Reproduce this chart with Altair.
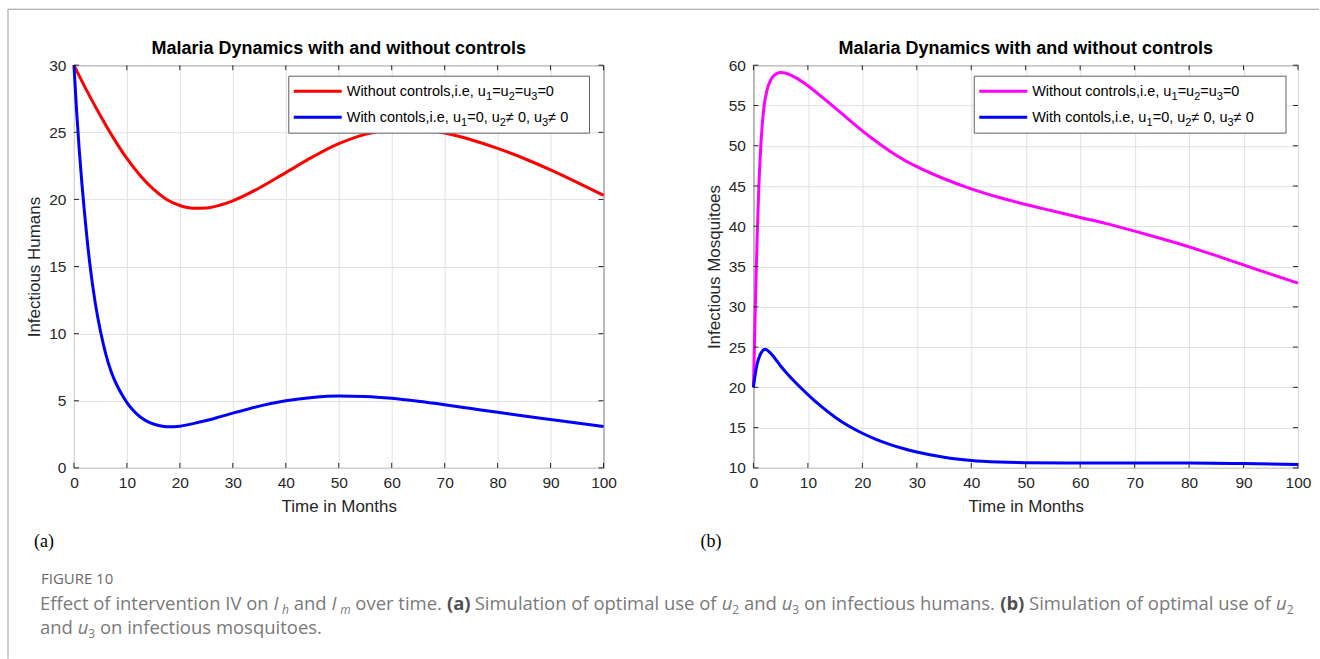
import altair as alt
import pandas as pd

# ---------------- series (time in months, population) ----------------
# Infectious humans without controls
t_h_none = [0, 2.5, 5, 7.5, 10, 12.5, 15, 17.5, 20, 22.5, 25, 27.5, 30, 35, 40, 45,
            50, 55, 60, 65, 70, 75, 80, 85, 90, 95, 100]
ih_none = [30, 28.05, 26.23, 24.55, 23.05, 21.78, 20.76, 20.0, 19.55, 19.35, 19.37,
           19.57, 19.9, 20.85, 22.0, 23.15, 24.15, 24.85, 25.2, 25.22, 24.95, 24.45,
           23.8, 23.05, 22.2, 21.27, 20.3]
# Infectious humans with u2, u3 active
t_h_ctrl = [0, 0.5, 1, 1.5, 2, 3, 4, 5, 6, 7, 8, 9, 10, 11, 12, 13, 14, 15, 16, 17,
            18, 19, 20, 22.5, 25, 27.5, 30, 35, 40, 45, 50, 55, 60, 65, 70, 75, 80,
            85, 90, 95, 100]
ih_ctrl = [30, 26.6, 23.7, 21.2, 19.0, 15.2, 12.35, 10.2, 8.5, 7.2, 6.25, 5.5, 4.87,
           4.37, 3.97, 3.66, 3.43, 3.27, 3.16, 3.09, 3.06, 3.07, 3.11, 3.3, 3.53, 3.8,
           4.08, 4.6, 5.0, 5.25, 5.36, 5.32, 5.18, 4.96, 4.7, 4.42, 4.14, 3.87, 3.61,
           3.35, 3.08]
# Infectious mosquitoes without controls
t_m_none = [0, 0.35, 0.7, 1.0, 1.4, 1.9, 2.5, 3.2, 4, 5, 6, 7.5, 10, 12.5, 15, 17.5,
            20, 22.5, 25, 27.5, 30, 35, 40, 45, 50, 55, 60, 65, 70, 75, 80, 85, 90,
            95, 100]
im_none = [20, 30, 39, 45, 50.5, 54.6, 56.9, 58.2, 58.85, 59.1, 59.0, 58.55, 57.45,
           56.1, 54.7, 53.25, 51.85, 50.55, 49.35, 48.3, 47.4, 45.9, 44.65, 43.6,
           42.7, 41.9, 41.1, 40.3, 39.4, 38.45, 37.45, 36.35, 35.2, 34.05, 32.95]
# Infectious mosquitoes with u2, u3 active
t_m_ctrl = [0, 0.3, 0.7, 1.2, 1.7, 2.2, 3, 4, 5, 6, 7.5, 10, 12.5, 15, 17.5, 20,
            22.5, 25, 27.5, 30, 35, 40, 45, 50, 60, 70, 80, 90, 100]
im_ctrl = [20, 21.5, 22.95, 24.0, 24.55, 24.72, 24.35, 23.55, 22.65, 21.85, 20.75,
           19.1, 17.6, 16.3, 15.2, 14.3, 13.55, 12.93, 12.4, 11.97, 11.32, 10.93,
           10.74, 10.65, 10.6, 10.62, 10.62, 10.55, 10.42]

x_ticks = list(range(0, 101, 10))
hum_ticks = list(range(0, 31, 5))
mos_ticks = list(range(10, 61, 5))

TITLE = "Malaria Dynamics with and without controls"
SERIES = ["no_control", "control"]

# ---------------- styling ----------------
FONT = "Liberation Sans, Arial, Helvetica, sans-serif"
CAP_FONT = "Open Sans, sans-serif"
INK = "#262626"
GRID = "#e1e1e1"
CAP_GREY = "#7a7a7a"
H = 403
LW, RW = 530, 545

ONE = pd.DataFrame({"k": [0]})

# advance widths (em) used to lay out mixed-style text runs
ARIAL = {' ': .278, 'W': .944, 'i': .222, 't': .278, 'h': .556, 'o': .556, 'u': .556,
         'c': .5, 'n': .556, 'r': .333, 'l': .222, 's': .5, ',': .278, '.': .278,
         'e': .556, '=': .584, '≠': .548}
OPEN = {' ': .26, 'a': .556, 'b': .613, 'c': .476, 'd': .613, 'e': .561, 'f': .339,
        'g': .548, 'h': .614, 'i': .253, 'j': .253, 'k': .525, 'l': .253, 'm': .93,
        'n': .614, 'o': .604, 'p': .613, 'q': .613, 'r': .408, 's': .477, 't': .353,
        'u': .614, 'v': .501, 'w': .778, 'x': .524, 'y': .502, 'z': .477, 'I': .3,
        'V': .579, 'E': .531, 'S': .536, 'F': .479, 'G': .705, 'U': .712, 'R': .591,
        '.': .266, ',': .245, '(': .296, ')': .296}

# width factor per piece kind
KIND_SCALE = {"n": 1.0, "b": 1.08, "it": 0.93, "sub": 1.0, "subit": 0.93}


def text_width(s, size, table, digit=.556, scale=1.0):
    return sum(table.get(c, digit if c.isdigit() else .55) for c in s) * size * scale


def label(x, y, s, size, font=FONT, color="black", style="normal", weight="normal",
          align="left", baseline="alphabetic", angle=0):
    return alt.Chart(ONE).mark_text(
        text=s, font=font, fontSize=size, color=color, fontStyle=style,
        fontWeight=weight, align=align, baseline=baseline, angle=angle,
    ).encode(x=alt.value(x), y=alt.value(y))


def text_run(x0, y, parts, table, size, sub_size, sub_drop, font, color,
             bold_color=None, digit=.556):
    """Lay out a sequence of (text, kind) pieces; kind in n / it / b / sub / subit."""
    out = []
    x = x0
    prev_text = ""
    for s, kind in parts:
        is_sub = kind in ("sub", "subit")
        sz = sub_size if is_sub else size
        k = KIND_SCALE[kind]
        if is_sub and prev_text == "I":
            x += 3.5  # clear the overhang of the slanted capital
        lead = len(s) - len(s.lstrip(" "))
        body = s.strip(" ")
        if body:
            out.append(label(
                x + text_width(" " * lead, sz, table, digit, k),
                y + (sub_drop if is_sub else 0), body, sz, font=font,
                color=(bold_color or color) if kind == "b" else color,
                style="italic" if kind in ("it", "subit") else "normal",
                weight="bold" if kind == "b" else "normal"))
        x += text_width(s, sz, table, digit, k)
        prev_text = body
    return out


def long_frame(t_a, v_a, t_b, v_b):
    a = pd.DataFrame({"t": t_a, "v": v_a, "series": SERIES[0]})
    b = pd.DataFrame({"t": t_b, "v": v_b, "series": SERIES[1]})
    return pd.concat([a, b], ignore_index=True)


def panel(df, colors, ydom, yticks, width, ytitle, legend_x, legend_w, tag, tag_x):
    xscale = alt.Scale(domain=[0, 100], nice=False, zero=False)
    yscale = alt.Scale(domain=ydom, nice=False, zero=False)
    common = dict(grid=True, gridColor=GRID, gridWidth=1, ticks=False, tickSize=0,
                  domain=False, labelFont=FONT, labelFontSize=15.5, labelColor=INK,
                  labelFlush=False, labelOverlap=False, titleFont=FONT,
                  titleFontSize=17, titleFontWeight="normal", titleColor=INK,
                  titleBaseline="middle", titleAlign="center", format="d")
    xaxis = alt.Axis(values=x_ticks, title="Time in Months", labelPadding=8,
                     titleX=width / 2, titleY=39, **common)
    yaxis = alt.Axis(values=yticks, title=ytitle, labelPadding=8, titleX=-39,
                     titleY=H / 2, titleAngle=270, **common)
    X = alt.X("t:Q", scale=xscale, axis=xaxis)
    Y = alt.Y("v:Q", scale=yscale, axis=yaxis)

    lines = alt.Chart(df).mark_line(strokeWidth=3, interpolate="monotone").encode(
        x=X, y=Y,
        color=alt.Color("series:N", scale=alt.Scale(domain=SERIES, range=colors),
                        legend=None),
    )

    xt = pd.DataFrame({"t": x_ticks})
    yt = pd.DataFrame({"v": yticks})
    tick_style = dict(color=INK, strokeWidth=1)
    ticks = [
        alt.Chart(xt).mark_rule(**tick_style).encode(x=X, y=alt.value(H), y2=alt.value(H - 5)),
        alt.Chart(xt).mark_rule(**tick_style).encode(x=X, y=alt.value(0), y2=alt.value(5)),
        alt.Chart(yt).mark_rule(**tick_style).encode(y=Y, x=alt.value(0), x2=alt.value(5)),
        alt.Chart(yt).mark_rule(**tick_style).encode(y=Y, x=alt.value(width), x2=alt.value(width - 5)),
    ]

    # legend box
    lx = legend_x
    legend = [
        alt.Chart(ONE).mark_rect(fill="white", stroke="#5f5f5f", strokeWidth=1).encode(
            x=alt.value(lx), x2=alt.value(lx + legend_w),
            y=alt.value(11), y2=alt.value(68)),
        alt.Chart(ONE).mark_rule(color=colors[0], strokeWidth=3).encode(
            x=alt.value(lx + 5), x2=alt.value(lx + 53), y=alt.value(26)),
        alt.Chart(ONE).mark_rule(color=colors[1], strokeWidth=3).encode(
            x=alt.value(lx + 5), x2=alt.value(lx + 53), y=alt.value(52)),
    ]
    row1 = [("Without controls,i.e, u", "n"), ("1", "sub"), ("=u", "n"), ("2", "sub"),
            ("=u", "n"), ("3", "sub"), ("=0", "n")]
    row2 = [("With contols,i.e, u", "n"), ("1", "sub"), ("=0, u", "n"), ("2", "sub"),
            ("≠ 0, u", "n"), ("3", "sub"), ("≠ 0", "n")]
    legend += text_run(lx + 58, 31, row1, ARIAL, 14.5, 11, 4, FONT, "black")
    legend += text_run(lx + 58, 57, row2, ARIAL, 14.5, 11, 4, FONT, "black")

    extras = [
        label(width / 2, -16, TITLE, 18, weight="bold", align="center", baseline="middle"),
        label(tag_x, 482, tag, 18, font="Liberation Serif, Times New Roman, serif"),
    ]
    return [lines] + ticks + legend + extras


df_h = long_frame(t_h_none, ih_none, t_h_ctrl, ih_ctrl)
df_m = long_frame(t_m_none, im_none, t_m_ctrl, im_ctrl)

left_layers = panel(df_h, ["#ff0000", "#0000ff"], [0, 30], hum_ticks, LW,
                    "Infectious Humans", 215, 301, "(a)", -40)
right_layers = panel(df_m, ["#ff00ff", "#0000ff"], [10, 60], mos_ticks, RW,
                     "Infectious Mosquitoes", 221, 312, "(b)", -53)

# page frame and figure caption (positioned from the left panel origin)
frame = [
    alt.Chart(ONE).mark_rule(color="#9b9b9b", strokeWidth=1).encode(
        x=alt.value(-66), x2=alt.value(1246), y=alt.value(-56)),
    alt.Chart(ONE).mark_rule(color="#9b9b9b", strokeWidth=1).encode(
        x=alt.value(-66), y=alt.value(-56), y2=alt.value(594)),
]
caption = [label(-33, 519, "FIGURE 10", 15, font=CAP_FONT, color="#6a6a6a")]
cap1 = [("Effect of intervention IV on ", "n"), ("I", "it"), ("h", "subit"), (" and ", "n"),
        ("I", "it"), ("m", "subit"), (" over time. ", "n"), ("(a)", "b"),
        (" Simulation of optimal use of ", "n"), ("u", "it"), ("2", "sub"), (" and ", "n"),
        ("u", "it"), ("3", "sub"), (" on infectious humans. ", "n"), ("(b)", "b"),
        (" Simulation of optimal use of ", "n"), ("u", "it"), ("2", "sub")]
cap2 = [("and ", "n"), ("u", "it"), ("3", "sub"), (" on infectious mosquitoes.", "n")]
caption += text_run(-34, 545, cap1, OPEN, 18.5, 12, 4, CAP_FONT, CAP_GREY,
                    bold_color="#505050", digit=.572)
caption += text_run(-34, 569, cap2, OPEN, 18.5, 12, 4, CAP_FONT, CAP_GREY,
                    bold_color="#505050", digit=.572)

left = alt.layer(*(left_layers + frame + caption)).properties(width=LW, height=H)
right = alt.layer(*right_layers).properties(width=RW, height=H)

chart = alt.hconcat(
    left, right, spacing=150, bounds="flush", background="white",
    padding={"left": 7, "top": 8, "right": 0, "bottom": 0},
).resolve_scale(color="independent").configure_view(stroke=INK, strokeWidth=1)

chart.save("out.html", embed_options={"renderer": "svg", "actions": False})
